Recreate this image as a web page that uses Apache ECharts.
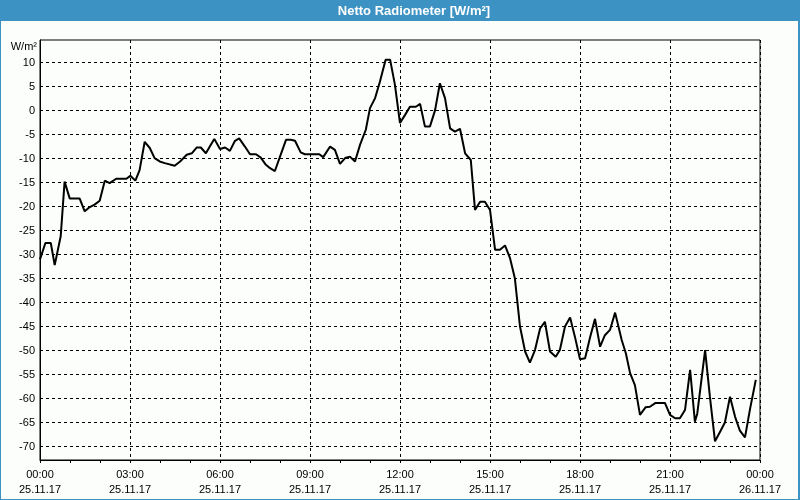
<!DOCTYPE html>
<html>
<head>
<meta charset="utf-8">
<script src="https://cdn.jsdelivr.net/npm/echarts@6/dist/echarts.min.js"></script>
<style>html,body{margin:0;padding:0;background:#fff;}#c{width:800px;height:500px;}</style>
</head>
<body>
<div id="c"></div>
<script>
const titleText = 'Netto Radiometer [W/m²]';
const unitLabel = 'W/m²';
const yTicks = [-70,-65,-60,-55,-50,-45,-40,-35,-30,-25,-20,-15,-10,-5,0,5,10];
const xTickHours = [0,3,6,9,12,15,18,21,24];
const hours = [0.00,0.18,0.36,0.49,0.69,0.82,0.99,1.32,1.49,1.66,1.82,1.99,2.16,2.32,2.54,2.88,3.01,3.18,3.32,3.49,3.66,3.82,3.99,4.16,4.49,4.67,4.89,5.06,5.22,5.36,5.53,5.67,5.81,6.00,6.17,6.33,6.50,6.64,6.83,7.00,7.20,7.36,7.53,7.67,7.83,8.00,8.20,8.36,8.50,8.69,8.83,9.06,9.31,9.44,9.67,9.83,10.00,10.17,10.33,10.50,10.67,10.86,11.00,11.17,11.33,11.52,11.67,11.83,12.00,12.17,12.33,12.53,12.67,12.83,13.00,13.17,13.33,13.50,13.67,13.83,14.00,14.17,14.36,14.50,14.67,14.83,15.00,15.17,15.33,15.50,15.67,15.83,16.00,16.17,16.33,16.50,16.67,16.83,17.00,17.19,17.33,17.50,17.67,17.83,18.00,18.17,18.33,18.50,18.67,18.83,19.00,19.17,19.39,19.53,19.67,19.83,20.00,20.19,20.33,20.52,20.83,21.00,21.17,21.33,21.50,21.67,21.83,21.91,22.17,22.33,22.50,22.67,22.83,23.00,23.17,23.33,23.50,23.67,23.86];
const values = [-31,-27.6,-27.6,-32.2,-26.2,-14.8,-18.3,-18.3,-21.0,-20.1,-19.6,-18.8,-14.6,-15.1,-14.2,-14.2,-13.6,-14.6,-12.4,-6.5,-7.8,-9.9,-10.6,-10.95,-11.5,-10.6,-9.2,-8.9,-7.7,-7.7,-8.9,-7.4,-5.9,-8.0,-7.7,-8.4,-6.3,-5.8,-7.5,-9.1,-9.1,-9.8,-11.3,-12.0,-12.6,-9.6,-6.1,-6.1,-6.3,-8.7,-9.1,-9.1,-9.1,-9.7,-7.5,-8.2,-11.1,-9.9,-9.6,-10.6,-7.1,-4.0,0.5,2.6,6.0,10.6,10.6,5.4,-2.6,-0.9,0.8,0.8,1.4,-3.3,-3.3,0.1,5.7,2.6,-3.7,-4.4,-3.8,-8.9,-10.3,-20.7,-19.0,-19.0,-20.7,-29.0,-29.0,-28.1,-30.8,-35.0,-45.0,-50.2,-52.5,-49.9,-45.4,-44.0,-50.2,-51.3,-49.9,-45.0,-43.1,-47.1,-51.8,-51.6,-47.4,-43.4,-49.2,-46.8,-45.7,-42.1,-47.8,-50.6,-54.7,-57.2,-63.4,-61.8,-61.7,-60.9,-60.9,-63.4,-64.1,-64.1,-62.4,-54.0,-64.8,-63.1,-49.9,-59.6,-68.9,-66.9,-65.0,-59.6,-63.8,-66.7,-68.1,-62.1,-56.1];

const seriesData = hours.map((h, i) => [h, values[i]]);
const font = '"Liberation Sans", Arial, sans-serif';

function xLabel(v) {
  const h = Math.round(v);
  const hh = String(h % 24).padStart(2, '0');
  const date = h >= 24 ? '26.11.17' : '25.11.17';
  return hh + ':00\n' + date;
}

const chart = echarts.init(document.getElementById('c'), null, {renderer: 'canvas'});
chart.setOption({
  backgroundColor: '#3d92c4',
  animation: false,
  graphic: [
    {type: 'rect', left: 1, top: 21, shape: {width: 797, height: 478}, style: {fill: '#fcfefc'}, z: -10, silent: true},
    {type: 'text', x: 414, y: 11, style: {text: titleText, fill: '#ffffff', font: 'bold 13px ' + font, textAlign: 'center', textVerticalAlign: 'middle'}},
    {type: 'text', x: 37, y: 47, style: {text: unitLabel, fill: '#000', font: '11px ' + font, textAlign: 'right', textVerticalAlign: 'middle'}}
  ],
  grid: {left: 40, right: 40, top: 40, bottom: 40, show: true, borderColor: '#000', borderWidth: 1, backgroundColor: 'transparent'},
  xAxis: {
    type: 'value', min: 0, max: 24, interval: 3,
    axisLine: {show: true, onZero: false, lineStyle: {color: '#000', width: 1}},
    axisTick: {show: true, length: 3, inside: false, lineStyle: {color: '#000'}, customValues: xTickHours},
    minorTick: {show: true, splitNumber: 3, length: 3, lineStyle: {color: '#000'}},
    minorSplitLine: {show: false},
    axisLabel: {customValues: xTickHours, formatter: xLabel, color: '#000', fontFamily: font, fontSize: 11, lineHeight: 15, margin: 7, showMinLabel: true, showMaxLabel: true},
    splitLine: {show: true, lineStyle: {color: '#000', type: [3, 3], width: 1}}
  },
  yAxis: {
    type: 'value', min: -72.8, max: 14.7,
    axisLine: {show: true, onZero: false, lineStyle: {color: '#000', width: 1}},
    axisTick: {show: false, customValues: yTicks},
    axisLabel: {customValues: yTicks, color: '#000', fontFamily: font, fontSize: 11, margin: 5},
    splitLine: {show: true, lineStyle: {color: '#000', type: [3, 3], width: 1}}
  },
  series: [{
    type: 'line', data: seriesData, showSymbol: false, symbol: 'none',
    lineStyle: {color: '#000', width: 2}, smooth: false
  }]
});
</script>
</body>
</html>
